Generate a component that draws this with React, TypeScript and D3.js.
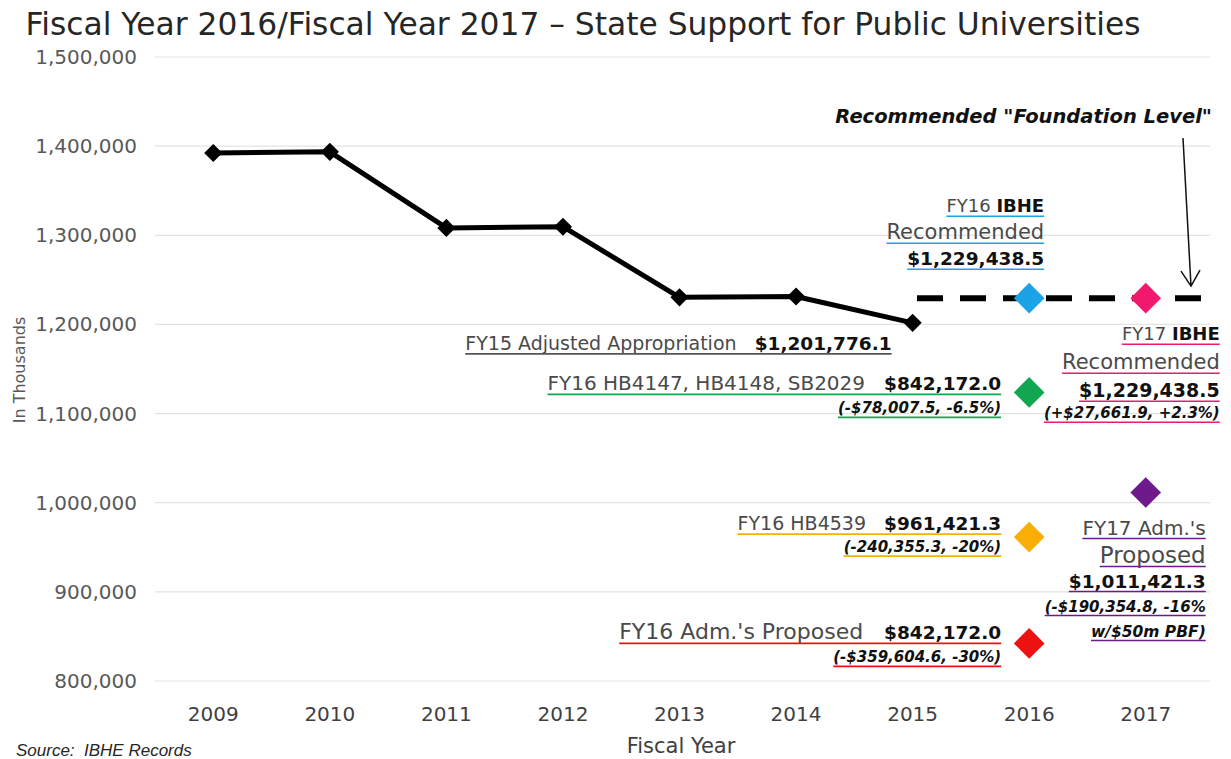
import * as d3 from 'd3';
import { useEffect, useRef } from 'react';

const years = ['2009', '2010', '2011', '2012', '2013', '2014', '2015', '2016', '2017'];
const actualYears = ['2009', '2010', '2011', '2012', '2013', '2014', '2015'];
const actualValues = [1392300, 1393600, 1308300, 1309600, 1230400, 1231300, 1201776.1];
const yTicks = [800000, 900000, 1000000, 1100000, 1200000, 1300000, 1400000, 1500000];

const proposalYears = ['2016', '2016', '2016', '2016', '2017', '2017'];
const proposalValues = [1229438.5, 1123768.6, 961421.3, 842172.0, 1229438.5, 1011421.3];
const proposalColors = ['#1ba3e6', '#13a650', '#f8ae05', '#ee1111', '#f2186e', '#6e1a8a'];
const foundationLevel = 1229438.5;

type Part = { t: string; b?: boolean; i?: boolean; s?: number };
type Line = { parts: Part[]; dy: number };

// label blocks, one per proposal (same order), positioned relative to the marker
const proposalLabels: { dx: number; lines: Line[] }[] = [
  {
    dx: 15,
    lines: [
      { parts: [{ t: 'FY16 ', s: 18 }, { t: 'IBHE', b: true, s: 18 }], dy: -86 },
      { parts: [{ t: 'Recommended', s: 21 }], dy: -59 },
      { parts: [{ t: '$1,229,438.5', b: true }], dy: -33 },
    ],
  },
  {
    dx: -28,
    lines: [
      { parts: [{ t: 'FY16 HB4147, HB4148, SB2029   ', s: 20 }, { t: '$842,172.0', b: true }], dy: -2 },
      { parts: [{ t: '(-$78,007.5, -6.5%)', b: true, i: true, s: 15 }], dy: 21 },
    ],
  },
  {
    dx: -28,
    lines: [
      { parts: [{ t: 'FY16 HB4539   ' }, { t: '$961,421.3', b: true }], dy: -7 },
      { parts: [{ t: '(-240,355.3, -20%)', b: true, i: true, s: 15 }], dy: 15 },
    ],
  },
  {
    dx: -28,
    lines: [
      { parts: [{ t: "FY16 Adm.'s Proposed   ", s: 22 }, { t: '$842,172.0', b: true }], dy: -4 },
      { parts: [{ t: '(-$359,604.6, -30%)', b: true, i: true, s: 15 }], dy: 19 },
    ],
  },
  {
    dx: 74,
    lines: [
      { parts: [{ t: 'FY17 ', s: 18 }, { t: 'IBHE', b: true, s: 18 }], dy: 42 },
      { parts: [{ t: 'Recommended', s: 21 }], dy: 71 },
      { parts: [{ t: '$1,229,438.5', b: true, s: 19 }], dy: 99 },
      { parts: [{ t: '(+$27,661.9, +2.3%)', b: true, i: true, s: 15 }], dy: 120 },
    ],
  },
  {
    dx: 60,
    lines: [
      { parts: [{ t: "FY17 Adm.'s", s: 20 }], dy: 42 },
      { parts: [{ t: 'Proposed', s: 23 }], dy: 70 },
      { parts: [{ t: '$1,011,421.3', b: true }], dy: 95 },
      { parts: [{ t: '(-$190,354.8, -16%', b: true, i: true, s: 15 }], dy: 119 },
      { parts: [{ t: 'w/$50m PBF)', b: true, i: true, s: 15.5 }], dy: 144 },
    ],
  },
];

const font = "'DejaVu Sans', sans-serif";

const App = (): React.ReactElement => {
  const ref: any = useRef();
  const width = 1231;
  const height = 759;

  useEffect(() => {
    const svg = d3.select(ref.current);
    svg.selectAll('*').remove();

    const x = d3.scaleBand().domain(years).range([155, 1204]);
    const y = d3.scaleLinear().domain([800000, 1500000]).range([681, 57]);
    const cx = (yr: string) => (x(yr) ?? 0) + x.bandwidth() / 2;

    // title
    svg
      .append('text')
      .attr('x', 583)
      .attr('y', 35)
      .attr('text-anchor', 'middle')
      .attr('font-family', font)
      .attr('font-size', 31.3)
      .attr('fill', '#262626')
      .text('Fiscal Year 2016/Fiscal Year 2017 – State Support for Public Universities');

    // gridlines + y labels
    const yAxis = svg.append('g');
    yAxis
      .selectAll('line')
      .data(yTicks)
      .enter()
      .append('line')
      .attr('x1', 155)
      .attr('x2', 1210)
      .attr('y1', (d) => y(d))
      .attr('y2', (d) => y(d))
      .attr('stroke', '#e3e3e3')
      .attr('stroke-width', 1.2);
    yAxis
      .selectAll('text')
      .data(yTicks)
      .enter()
      .append('text')
      .attr('x', 137)
      .attr('y', (d) => y(d) + 7)
      .attr('text-anchor', 'end')
      .attr('font-family', font)
      .attr('font-size', 20)
      .attr('fill', '#595959')
      .text((d) => d3.format(',')(d));

    svg
      .append('text')
      .attr('transform', 'translate(25,370) rotate(-90)')
      .attr('text-anchor', 'middle')
      .attr('font-family', font)
      .attr('font-size', 16)
      .attr('fill', '#595959')
      .text('In Thousands');

    // x labels
    svg
      .append('g')
      .selectAll('text')
      .data(years)
      .enter()
      .append('text')
      .attr('x', (d) => cx(d))
      .attr('y', 721)
      .attr('text-anchor', 'middle')
      .attr('font-family', font)
      .attr('font-size', 20)
      .attr('fill', '#404040')
      .text((d) => d);

    svg
      .append('text')
      .attr('x', 681)
      .attr('y', 753)
      .attr('text-anchor', 'middle')
      .attr('font-family', font)
      .attr('font-size', 21)
      .attr('fill', '#404040')
      .text('Fiscal Year');

    svg
      .append('text')
      .attr('x', 16)
      .attr('y', 756)
      .attr('font-family', "'Liberation Sans', sans-serif")
      .attr('font-size', 17)
      .attr('font-style', 'italic')
      .attr('fill', '#262626')
      .style('white-space', 'pre')
      .text('Source:  IBHE Records');

    // foundation level dashed line
    svg
      .append('line')
      .attr('x1', 917)
      .attr('x2', 1210)
      .attr('y1', y(foundationLevel))
      .attr('y2', y(foundationLevel))
      .attr('stroke', '#000')
      .attr('stroke-width', 6)
      .attr('stroke-dasharray', '26,17');

    // actual appropriations line
    const line = d3
      .line<number>()
      .x((_, i) => cx(actualYears[i]))
      .y((d) => y(d));
    svg
      .append('path')
      .datum(actualValues)
      .attr('d', line)
      .attr('fill', 'none')
      .attr('stroke', '#000')
      .attr('stroke-width', 5)
      .attr('stroke-linejoin', 'round');

    const diamond = d3.symbol().type(d3.symbolDiamond2);
    svg
      .append('g')
      .selectAll('path')
      .data(actualValues)
      .enter()
      .append('path')
      .attr('d', diamond.size(210)())
      .attr('transform', (d, i) => `translate(${cx(actualYears[i])},${y(d)})`)
      .attr('fill', '#000');

    // proposal markers
    svg
      .append('g')
      .selectAll('path')
      .data(proposalValues)
      .enter()
      .append('path')
      .attr('d', diamond.size(600)())
      .attr('transform', (d, i) => `translate(${cx(proposalYears[i])},${y(d)})`)
      .attr('fill', (_, i) => proposalColors[i]);

    // text block with underlines
    const drawLines = (ax: number, ay: number, lines: Line[], ulColor: string) => {
      lines.forEach((ln) => {
        const t = svg
          .append('text')
          .attr('x', ax)
          .attr('y', ay + ln.dy)
          .attr('text-anchor', 'end')
          .attr('font-family', font)
          .style('white-space', 'pre');
        ln.parts.forEach((p) => {
          t.append('tspan')
            .attr('font-size', p.s ?? (p.b ? 18.5 : 19))
            .attr('font-weight', p.b ? 'bold' : 'normal')
            .attr('font-style', p.i ? 'italic' : 'normal')
            .attr('fill', p.b ? '#111' : '#4a4a4a')
            .text(p.t);
        });
        const bb = (t.node() as SVGTextElement).getBBox();
        svg
          .append('line')
          .attr('x1', bb.x)
          .attr('x2', bb.x + bb.width)
          .attr('y1', ay + ln.dy + 4)
          .attr('y2', ay + ln.dy + 4)
          .attr('stroke', ulColor)
          .attr('stroke-width', 1.6);
      });
    };

    proposalLabels.forEach((lab, i) => {
      drawLines(cx(proposalYears[i]) + lab.dx, y(proposalValues[i]), lab.lines, proposalColors[i]);
    });

    const last = actualValues[actualValues.length - 1];
    drawLines(
      cx('2015') - 21,
      y(last),
      [{ parts: [{ t: 'FY15 Adjusted Appropriation   ' }, { t: '$1,201,776.1', b: true }], dy: 27 }],
      '#555',
    );

    // foundation level callout
    svg
      .append('text')
      .attr('x', 1212)
      .attr('y', 123)
      .attr('text-anchor', 'end')
      .attr('font-family', font)
      .attr('font-size', 19.5)
      .attr('font-weight', 'bold')
      .attr('font-style', 'italic')
      .attr('fill', '#111')
      .text('Recommended "Foundation Level"');

    const tipX = 1191;
    const tipY = y(foundationLevel) - 12;
    svg
      .append('path')
      .attr('d', `M1183,138 L${tipX},${tipY} M${tipX - 10},${tipY - 15} L${tipX},${tipY} L${tipX + 9},${tipY - 16}`)
      .attr('fill', 'none')
      .attr('stroke', '#111')
      .attr('stroke-width', 1.5);
  }, []);

  return (
    <svg
      ref={ref}
      width={width}
      height={height}
      style={{ position: 'absolute', left: 0, top: 0, background: '#fff' }}
    />
  );
};

export default App;
